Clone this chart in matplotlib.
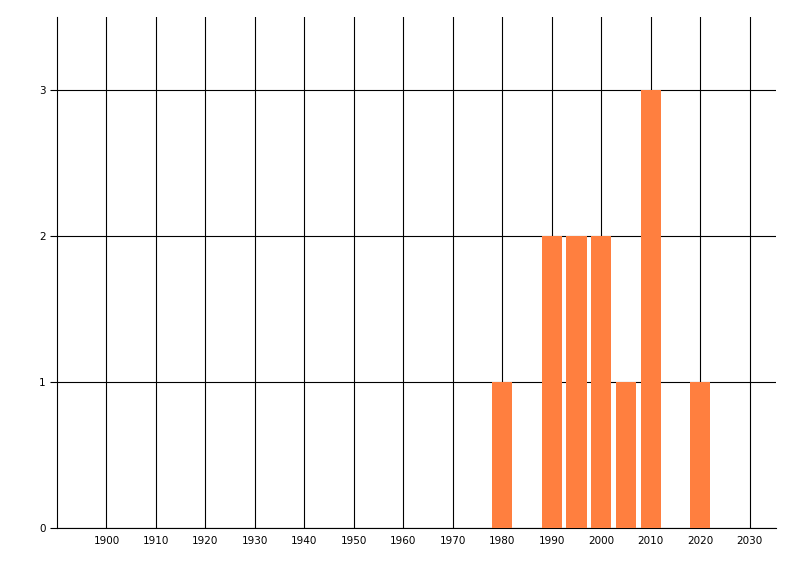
import matplotlib
matplotlib.use("Agg")
import matplotlib.pyplot as plt

years = [1980, 1990, 1995, 2000, 2005, 2010, 2020]
counts = [1, 2, 2, 2, 1, 3, 1]
xticks = list(range(1900, 2031, 10))
yticks = [0, 1, 2, 3]

fig = plt.figure(figsize=(8, 5.76), dpi=100)
ax = fig.add_axes([57/800, 1-528/576, (776-57)/800, (528-17)/576])
ax.bar(years, counts, width=4.1, color="#FF7F3F", linewidth=0, zorder=3)
ax.set_xlim(1890, 2035.3)
ax.set_ylim(0, 3.5)
ax.set_xticks(xticks)
ax.set_yticks(yticks)
ax.grid(True, color="black", linewidth=0.8)
ax.set_axisbelow(True)
for s in ["top", "right"]:
    ax.spines[s].set_visible(False)
for s in ["left", "bottom"]:
    ax.spines[s].set_color("black")
    ax.spines[s].set_linewidth(0.8)
ax.tick_params(axis="x", length=0, labelsize=7.5, pad=6)
ax.tick_params(axis="y", length=5, width=0.8, labelsize=7.5, pad=3)
fig.savefig("out.png", dpi=100)
